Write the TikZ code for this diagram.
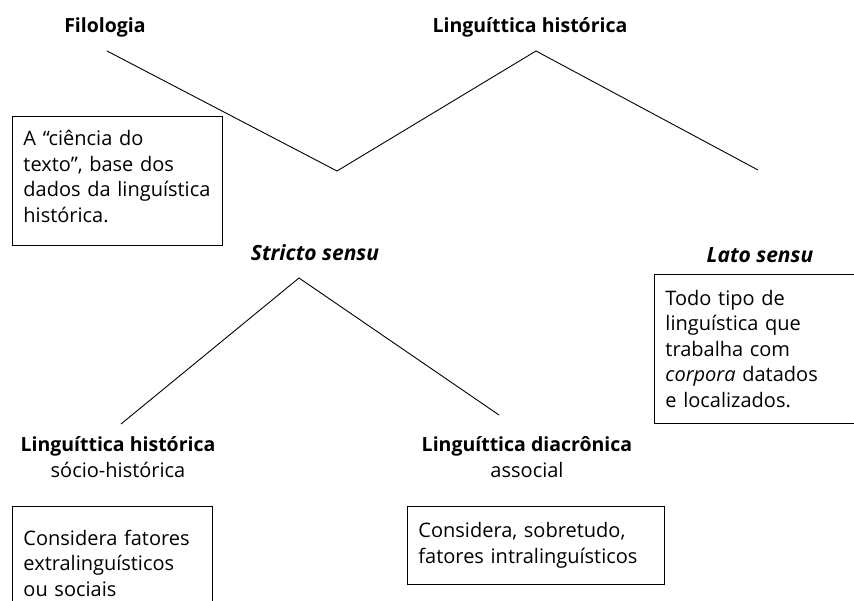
\documentclass[tikz,border=0pt]{standalone}
\usepackage{fontspec}
\setmainfont{Open Sans}
\usepackage{tikz}

\newcommand{\bodysize}{\fontsize{20}{25.5}\selectfont}
\newcommand{\headsize}{\fontsize{19.5}{23}\selectfont}
\newcommand{\sensusize}{\fontsize{21}{25}\selectfont}

\tikzset{
	boxline/.style={line width=0.9pt},
	textbox/.style={draw, boxline, anchor=north west, align=left, inner xsep=11pt, inner ysep=0pt, font=\bodysize},
	heading/.style={anchor=base, inner sep=0pt, font=\headsize\bfseries},
	sensu/.style={anchor=base, inner sep=0pt, font=\sensusize\bfseries\itshape},
	subheading/.style={anchor=base, inner sep=0pt, font=\bodysize},
}

\begin{document}
\begin{tikzpicture}[x=1pt, y=-1pt]
			\useasboundingbox (0,0) rectangle (854,601);
			\clip (0,0) rectangle (854,601);

			\coordinate (filologia end) at (107,51);
			\coordinate (valley) at (337,171);
			\coordinate (top peak) at (536,51);
			\coordinate (lato end) at (758,170);

			\coordinate (stricto peak) at (299,278);
			\coordinate (socio end) at (121,424);
			\coordinate (diacro end) at (499,415);

			% upper level
			\node [heading] (filologia) at (105,33) {Filologia};
			\node [heading] (lh top) at (530,33) {Linguíttica histórica};

			\node [textbox, text width=188pt, text height=29.5pt, text depth=99.5pt] (ciencia) at (12,116)
				{A “ciência do\\ texto”, base dos\\ \mbox{dados da linguística}\\ histórica.};

			\node [sensu] (stricto) at (315,261) {Stricto sensu};
			\node [sensu] (lato) at (760,263) {Lato sensu};

			\node [textbox, text width=200pt, text height=31pt, text depth=118pt] (todo tipo) at (654,274)
				{Todo tipo de\\ linguística que\\ trabalha com\\ \textit{corpora} datados\\ e localizados.};

			% lower level
			\node [heading] (lh socio) at (118,451) {Linguíttica histórica};
			\node [subheading] (socio) at (118,477) {sócio-histórica};
			\node [heading] (ld) at (527,451) {Linguíttica diacrônica};
			\node [subheading] (associal) at (527,477) {associal};

			\node [textbox, text width=178pt, text height=39pt, text depth=80pt] (extra) at (12,506)
				{Considera fatores\\ extralinguísticos\\ ou sociais};
			\node [textbox, text width=235pt, text height=31.5pt, text depth=46pt] (intra) at (407,506)
				{Considera, sobretudo,\\ \mbox{fatores intralinguísticos}};

			\begin{scope}[line width=0.9pt]
				\draw (filologia end) -- (valley) -- (top peak) -- (lato end);
				\draw (socio end) -- (stricto peak) -- (diacro end);
			\end{scope}
		\end{tikzpicture}
\end{document}
